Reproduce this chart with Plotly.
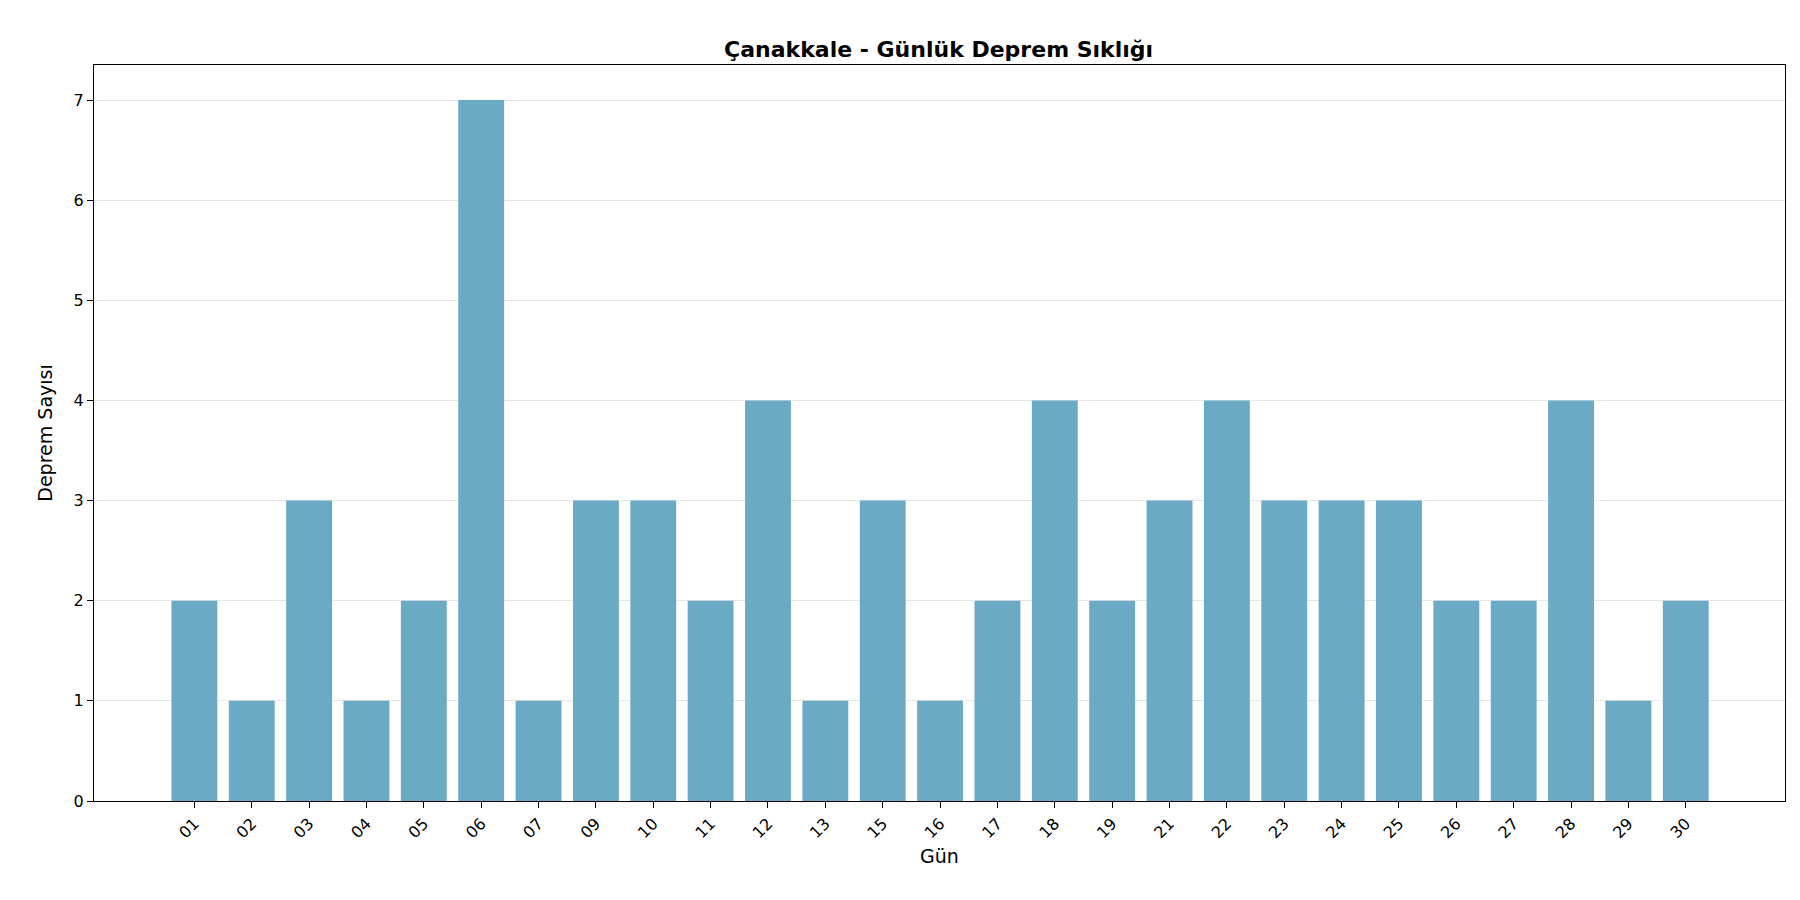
import plotly.graph_objects as go

days = ['01', '02', '03', '04', '05', '06', '07', '09', '10', '11', '12', '13', '15', '16',
        '17', '18', '19', '21', '22', '23', '24', '25', '26', '27', '28', '29', '30']
counts = [2, 1, 3, 1, 2, 7, 1, 3, 3, 2, 4, 1, 3, 1, 2, 4, 2, 3, 4, 3, 3, 3, 2, 2, 4, 1, 2]

fig = go.Figure(go.Bar(x=days, y=counts, width=0.8,
                       marker=dict(color='#6BAAC4', line_width=0)))

fig.update_layout(
    width=1800, height=900,
    title=dict(text='<b>Çanakkale - Günlük Deprem Sıklığı</b>', x=0.517, xanchor='center',
               y=0.963, font=dict(size=22, color='black')),
    font=dict(family='DejaVu Sans', color='black', size=16),
    plot_bgcolor='white', paper_bgcolor='white',
    margin=dict(l=86, r=23, t=57, b=107),
    xaxis=dict(title=dict(text='Gün', font=dict(size=19), standoff=8),
               range=[-1.75, 27.73], tickangle=-45,
               showline=True, linecolor='black', mirror=True,
               ticks='outside', ticklen=6, tickcolor='black', showgrid=False),
    yaxis=dict(title=dict(text='Deprem Sayısı', font=dict(size=19)),
               range=[0, 7.35], dtick=1,
               showline=True, linecolor='black', mirror=True,
               ticks='outside', ticklen=6, tickcolor='black',
               showgrid=True, gridcolor='#e5e5e5', zeroline=False),
)

fig.write_html("out.html")
